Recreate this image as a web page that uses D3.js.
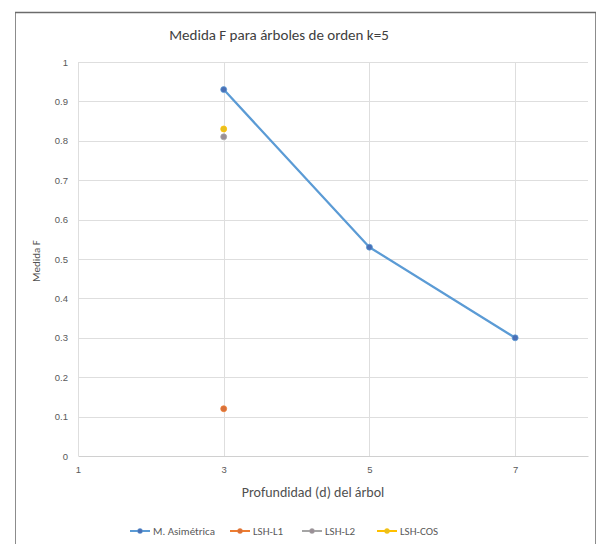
<!DOCTYPE html>
<html>
<head>
<meta charset="utf-8">
<script src="https://cdn.jsdelivr.net/npm/d3@7"></script>
<style>
  html, body { margin: 0; padding: 0; background: #fff; }
  svg { display: block; font-family: Calibri, Carlito, "Liberation Sans", "DejaVu Sans", sans-serif; }
</style>
</head>
<body>
<svg id="chart" width="600" height="544"></svg>
<script>
// Depth of the tree (x) and F-measure per method
const depths = [3, 5, 7];
const asimetrica = [0.93, 0.53, 0.30];
const lshL1 = [0.12];
const lshL2 = [0.81];
const lshCos = [0.83];
const seriesNames = ["M. Asimétrica", "LSH-L1", "LSH-L2", "LSH-COS"];
const seriesColors = ["#5b9bd5", "#ed7d31", "#a5a5a5", "#ffc000"];
const yTicks = [0, 0.1, 0.2, 0.3, 0.4, 0.5, 0.6, 0.7, 0.8, 0.9, 1];
const xTicks = [1, 3, 5, 7];

const series = [
  { name: seriesNames[0], color: seriesColors[0], marker: "#4a6fb5", pts: depths.map((d, i) => [d, asimetrica[i]]) },
  { name: seriesNames[1], color: seriesColors[1], marker: "#d8703a", pts: [[3, lshL1[0]]] },
  { name: seriesNames[2], color: seriesColors[2], marker: "#9a8f96", pts: [[3, lshL2[0]]] },
  { name: seriesNames[3], color: seriesColors[3], marker: "#e8c020", pts: [[3, lshCos[0]]] }
];

const svg = d3.select("#chart");

// outer frame
svg.append("path")
  .attr("d", "M15.5,544 V12.5 H595.5 V544")
  .attr("fill", "none").attr("stroke", "#8c8c8c").attr("stroke-width", 1);
svg.append("line").attr("x1", 15).attr("x2", 596).attr("y1", 12.5).attr("y2", 12.5)
  .attr("stroke", "#6b6b6b").attr("stroke-width", 1.5);

const x = d3.scaleLinear().domain([1, 8]).range([78, 588]);
const y = d3.scaleLinear().domain([0, 1]).range([456, 62]);

// gridlines
const g = svg.append("g");
g.selectAll(".hg").data(yTicks.filter(t => t > 0)).join("line")
  .attr("x1", x(1)).attr("x2", x(8))
  .attr("y1", d => Math.round(y(d)) + 0.5).attr("y2", d => Math.round(y(d)) + 0.5)
  .attr("stroke", "#dedede").attr("stroke-width", 1);
g.selectAll(".vg").data(xTicks).join("line")
  .attr("x1", d => Math.round(x(d)) + 0.5).attr("x2", d => Math.round(x(d)) + 0.5)
  .attr("y1", y(1)).attr("y2", y(0))
  .attr("stroke", "#dedede").attr("stroke-width", 1);

// axes
const yAxis = d3.axisLeft(y).tickValues(yTicks).tickSize(0).tickPadding(10)
  .tickFormat(d => String(d));
const yg = svg.append("g").attr("transform", `translate(${x(1)},0)`).call(yAxis);
yg.select(".domain").remove();
yg.selectAll("text").attr("fill", "#595959").style("font-size", "9.5px");

const xAxis = d3.axisBottom(x).tickValues(xTicks).tickSize(0).tickPadding(10)
  .tickFormat(d => String(d));
const xg = svg.append("g").attr("transform", `translate(0,${y(0)})`).call(xAxis);
xg.select(".domain").attr("stroke", "#d0d0d0");
xg.selectAll("text").attr("fill", "#595959").style("font-size", "9.5px");

// title and axis titles
svg.append("text").attr("x", 279).attr("y", 40).attr("text-anchor", "middle")
  .attr("fill", "#404040").style("font-size", "15px").text("Medida F para árboles de orden k=5");
svg.append("text").attr("x", 313).attr("y", 497).attr("text-anchor", "middle")
  .attr("fill", "#505050").style("font-size", "14px").text("Profundidad  (d) del árbol");
svg.append("text").attr("transform", "translate(40,261) rotate(-90)").attr("text-anchor", "middle")
  .attr("fill", "#505050").style("font-size", "11px").text("Medida F");

// series
const line = d3.line().x(d => x(d[0])).y(d => y(d[1]));
series.forEach(s => {
  if (s.pts.length > 1) {
    svg.append("path").datum(s.pts).attr("d", line)
      .attr("fill", "none").attr("stroke", s.color).attr("stroke-width", 2.25)
      .attr("stroke-linejoin", "round");
  }
  svg.selectAll(null).data(s.pts).join("circle")
    .attr("cx", d => x(d[0])).attr("cy", d => y(d[1])).attr("r", 3)
    .attr("fill", s.marker).attr("stroke", s.color).attr("stroke-width", 0.75);
});

// legend
const legendX = [130, 230, 302, 377];
const legendY = 531;
series.forEach((s, i) => {
  const lg = svg.append("g").attr("transform", `translate(${legendX[i]},${legendY})`);
  lg.append("line").attr("x1", 0).attr("x2", 20).attr("y1", 0).attr("y2", 0)
    .attr("stroke", s.color).attr("stroke-width", 2);
  lg.append("circle").attr("cx", 10).attr("cy", 0).attr("r", 2.5)
    .attr("fill", s.marker).attr("stroke", s.color).attr("stroke-width", 0.5);
  lg.append("text").attr("x", 23).attr("y", 3.5).attr("fill", "#595959")
    .style("font-size", "11px").text(s.name);
});
</script>
</body>
</html>
